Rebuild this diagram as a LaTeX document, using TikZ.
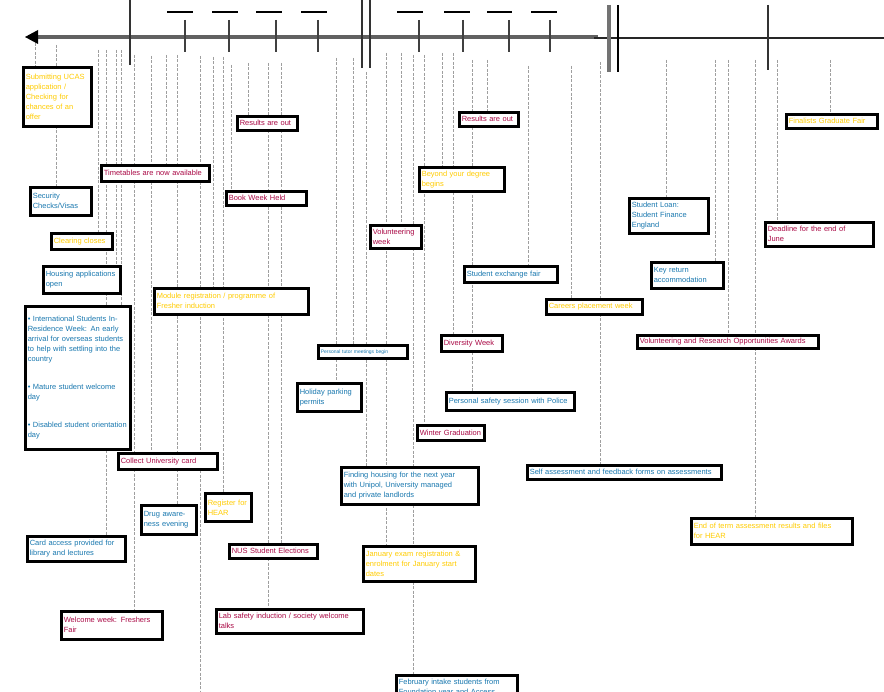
\documentclass[tikz,border=0pt]{standalone}
\usepackage{fontspec}
\setmainfont{Liberation Sans}
\usetikzlibrary{backgrounds}

\definecolor{evyellow}{RGB}{255,204,0}
\definecolor{evred}{RGB}{170,10,70}
\definecolor{evblue}{RGB}{25,120,175}

\tikzset{
  evbox/.style={draw=black, line width=2.6pt, fill=white, inner xsep=2.5pt, inner ysep=1pt,
    align=left, anchor=north west, font=\fontsize{7.5}{10}\selectfont,
    execute at begin node={\hyphenpenalty=10000 \exhyphenpenalty=10000 }},
  yel/.style={text=evyellow},
  red/.style={text=evred},
  blu/.style={text=evblue},
  guide/.style={gray!75, line width=0.8pt, dash pattern=on 3pt off 1.5pt},
  bigtick/.style={line width=2.2pt, black!80},
  smalltick/.style={line width=2.2pt, black!75},
  topdash/.style={line width=1.6pt, black},
}

% one event box: name, left, top, right, bottom, colour style, text
\newcommand\evnode[7]{%
  \pgfmathsetmacro\evw{#4-#2-5}%
  \pgfmathsetmacro\evh{#5-#3}%
  \node[evbox,#6,text width=\evw pt,minimum height=\evh pt] (#1) at (#2,#3) {#7};}

\begin{document}
\begin{tikzpicture}[x=1pt,y=-1pt]
\clip (0,0) rectangle (884,692);

% timeline axis
\coordinate (axisL) at (36,37);
\coordinate (axisM) at (598,37);
\coordinate (axisM2) at (594,38);
\coordinate (axisR) at (884,38);
\draw[line width=4.5pt, black!62] (axisM) -- (axisL);
\draw[line width=2pt, black!85] (axisM2) -- (axisR);
\fill[black] (25,37) -- (38,30) -- (38,44) -- cycle;

% tall markers
\draw[bigtick] (130,0) -- (130,65);
\draw[bigtick, line width=2.5pt] (362,0) -- (362,68);
\draw[bigtick, line width=2.5pt] (370,0) -- (370,68);
\draw[line width=4pt, black!55] (609,5) -- (609,72);
\draw[line width=2pt, black] (618,5) -- (618,72);
\draw[bigtick, line width=2pt] (768,5) -- (768,70);

% short ticks with dashes above
\foreach \tx/\da/\db in {185/167/193, 229/212/238, 276/256/282, 318/301/327,
                          419/397/423, 463/444/470, 509/487/512, 550/531/557} {
  \draw[smalltick] (\tx,20) -- (\tx,52);
  \draw[topdash] (\da,12) -- (\db,12);
}

% event boxes
\evnode{ucas}{22}{66}{90}{125}{yel}{Submitting UCAS\\application /\\Checking for\\chances of an\\offer}
\evnode{resA}{236}{115}{296}{129}{red}{Results are out}
\evnode{timet}{100}{164}{208}{180}{red}{Timetables are now available}
\evnode{secur}{29}{186}{90}{214}{blu}{Security\\Checks/Visas}
\evnode{clear}{50}{232}{111}{248}{yel}{Clearing closes}
\evnode{house}{42}{265}{119}{292}{blu}{Housing applications\\open}
\evnode{intl}{24}{305}{129}{448}{blu}{• International Students In-\\Residence Week: An early\\arrival for overseas students\\to help with settling into the\\country\\[18pt]• Mature student welcome\\day\\[18pt]• Disabled student orientation\\day}
\evnode{book}{225}{190}{305}{204}{red}{Book Week Held}
\evnode{modreg}{153}{287}{307}{313}{yel}{Module registration / programme of\\Fresher induction}
\evnode{collect}{117}{452}{216}{468}{red}{Collect University card}
\evnode{drug}{140}{504}{195}{533}{blu}{Drug aware-\\ness evening}
\evnode{hear}{204}{492}{250}{520}{yel}{Register for\\HEAR}
\evnode{nus}{228}{543}{316}{557}{red}{NUS Student Elections}
\evnode{card}{26}{535}{124}{560}{blu}{Card access provided for\\library and lectures}
\evnode{welcome}{60}{610}{161}{638}{red}{Welcome week: Freshers\\Fair}
\evnode{lab}{215}{608}{362}{632}{red}{Lab safety induction / society welcome\\talks}

\evnode{resB}{458}{111}{517}{125}{red}{Results are out}
\evnode{beyond}{418}{166}{503}{190}{yel}{Beyond your degree\\begins}
\evnode{volw}{369}{224}{420}{247}{red}{Volunteering\\week}
\evnode{exch}{463}{265}{556}{281}{blu}{Student exchange fair}
\evnode{place}{545}{298}{641}{313}{yel}{Careers placement week}
\evnode{tutor}{317}{344}{406}{357}{blu,font=\fontsize{5}{6}\selectfont}{Personal tutor meetings begin}
\evnode{park}{296}{382}{360}{410}{blu}{Holiday parking\\permits}
\evnode{divers}{440}{334}{501}{350}{red}{Diversity Week}
\evnode{safety}{445}{391}{573}{409}{blu}{Personal safety session with Police}
\evnode{winter}{416}{424}{483}{439}{red}{Winter Graduation}
\evnode{findh}{340}{466}{477}{503}{blu}{Finding housing for the next year\\with Unipol, University managed\\and private landlords}
\evnode{janex}{362}{545}{474}{580}{yel}{January exam registration \&\\enrolment for January start\\dates}
\evnode{febst}{395}{674}{516}{698}{blu}{February intake students from\\Foundation year and Access}

\evnode{selfas}{526}{464}{720}{478}{blu}{Self assessment and feedback forms on assessments}
\evnode{loan}{628}{197}{707}{232}{blu}{Student Loan:\\Student Finance\\England}
\evnode{keyret}{650}{261}{722}{287}{blu}{Key return\\accommodation}
\evnode{volres}{636}{334}{817}{347}{red}{Volunteering and Research Opportunities Awards}
\evnode{gradf}{785}{113}{876}{127}{yel}{Finalists Graduate Fair}
\evnode{deadl}{764}{221}{872}{245}{red}{Deadline for the end of\\June}
\evnode{endterm}{690}{517}{851}{543}{yel}{End of term assessment results and files\\for HEAR}

% dashed guides from the axis down to each event, behind the boxes
\begin{pgfonlayer}{background}
\fill[white] (0,0) rectangle (884,692);
\foreach \gx/\gy/\tgt in {
   35/43/ucas, 56/45/secur, 98/50/clear, 116/50/house, 121/50/intl,
   106/50/card, 134/55/welcome, 151/56/collect, 166/55/timet, 177/55/drug,
   213/57/modreg, 223/57/hear, 231/65/book, 248/63/resA, 268/63/lab, 281/63/nus,
   336/58/park, 353/58/tutor, 366/72/findh, 386/53/janex, 401/53/volw,
   413/55/febst, 424/55/winter, 442/53/beyond, 453/53/divers, 472/60/safety,
   487/60/resB, 528/66/exch, 571/66/place,
   600/62/selfas, 666/60/loan, 715/60/keyret, 728/60/volres, 755/60/endterm,
   777/60/deadl, 830/60/gradf} {
  \coordinate (top-\tgt) at (\gx,\gy);
  \draw[guide] (top-\tgt) -- (\tgt.north -| top-\tgt);
}
\coordinate (top-open) at (200,56);
\coordinate (bot-open) at (200,692);
\draw[guide] (top-open) -- (bot-open);
\end{pgfonlayer}
\end{tikzpicture}
\end{document}
